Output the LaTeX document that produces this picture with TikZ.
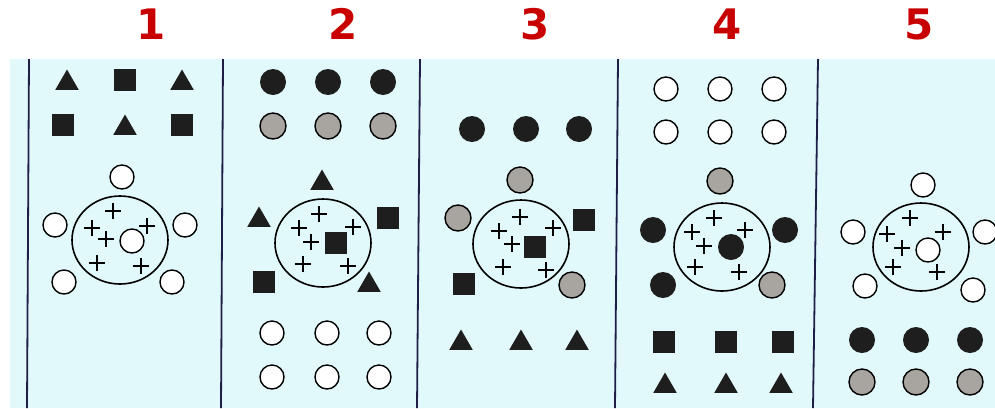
\documentclass[tikz,border=0pt]{standalone}
\usepackage{fontspec}
\setmainfont{Liberation Sans}
\newfontfamily\numfont{DejaVu Sans}
\usetikzlibrary{shapes.geometric}
\definecolor{bgcyan}{RGB}{226,249,251}
\definecolor{panelline}{RGB}{30,30,70}
\definecolor{labelred}{RGB}{200,0,0}
\definecolor{ink}{RGB}{30,30,30}
\definecolor{greyfill}{RGB}{168,164,160}
\tikzset{
  sq/.style={rectangle, fill=ink, inner sep=0pt, minimum size=22pt},
  tri/.style={regular polygon, regular polygon sides=3, fill=ink, inner sep=0pt, minimum size=27pt},
  wcirc/.style={circle, draw=black, line width=1.4pt, fill=white, inner sep=0pt, minimum size=24pt},
  bcirc/.style={circle, fill=ink, inner sep=0pt, minimum size=26pt},
  gcirc/.style={circle, draw=black, line width=1.4pt, fill=greyfill, inner sep=0pt, minimum size=26pt},
  ring/.style={ellipse, draw=black, line width=1.6pt, inner sep=0pt, minimum width=96pt, minimum height=88pt},
  plus/.style={rectangle, inner sep=0pt, minimum size=16pt,
    path picture={\draw[line width=1.6pt]
      (path picture bounding box.north) -- (path picture bounding box.south)
      (path picture bounding box.west) -- (path picture bounding box.east);}},
  num/.style={font=\numfont\bfseries\fontsize{42}{42}\selectfont, text=labelred, inner sep=0pt},
}
\begin{document}
\begin{tikzpicture}[x=1pt, y=-1pt]
   \useasboundingbox (0,0) rectangle (995,408);
   \fill[bgcyan] (10,59) rectangle (995,408);
   % panel borders
   \draw[panelline, line width=1.8pt] (29,59) -- (27,408);
   \draw[panelline, line width=1.8pt] (223,59) -- (221,408);
   \draw[panelline, line width=1.8pt] (420,59) -- (417,408);
   \draw[panelline, line width=1.8pt] (618,59) -- (615,408);
   \draw[panelline, line width=1.8pt] (818,59) -- (813,408);
   % numbers
   \node[num] (n1) at (151,24) {1};
   \node[num] (n2) at (343,24) {2};
   \node[num] (n3) at (535,24) {3};
   \node[num] (n4) at (727,24) {4};
   \node[num] (n5) at (919,24) {5};
   % panel 1
   \node[tri] (A1) at (67,83) {};
   \node[sq] (A2) at (125,80) {};
   \node[tri] (A3) at (182,83) {};
   \node[sq] (A4) at (63,125) {};
   \node[tri] (A5) at (125,128) {};
   \node[sq] (A6) at (182,125) {};
   \node[ring] (R1) at (120,240) {};
   \node[wcirc] (C1) at (132,241) {};
   \node[wcirc] (O11) at (122,177) {};
   \node[wcirc] (O12) at (55,225) {};
   \node[wcirc] (O13) at (185,225) {};
   \node[wcirc] (O14) at (64,282) {};
   \node[wcirc] (O15) at (172,282) {};
   \node[plus] (P11) at (113,211) {};
   \node[plus] (P12) at (92,228) {};
   \node[plus] (P13) at (147,226) {};
   \node[plus] (P14) at (106,239) {};
   \node[plus] (P15) at (97,263) {};
   \node[plus] (P16) at (141,266) {};
   % panel 2
   \node[bcirc] (B1) at (273,82) {};
   \node[bcirc] (B2) at (328,82) {};
   \node[bcirc] (B3) at (383,82) {};
   \node[gcirc] (B4) at (273,126) {};
   \node[gcirc] (B5) at (328,126) {};
   \node[gcirc] (B6) at (383,126) {};
   \node[ring] (R2) at (323,243) {};
   \node[sq] (C2) at (336,243) {};
   \node[tri] (O21) at (322,183) {};
   \node[tri] (O22) at (259,220) {};
   \node[sq] (O23) at (388,218) {};
   \node[sq] (O24) at (264,282) {};
   \node[tri] (O25) at (369,285) {};
   \node[plus] (P21) at (319,214) {};
   \node[plus] (P22) at (299,228) {};
   \node[plus] (P23) at (353,227) {};
   \node[plus] (P24) at (311,242) {};
   \node[plus] (P25) at (303,264) {};
   \node[plus] (P26) at (348,266) {};
   \node[wcirc] (E21) at (272,333) {};
   \node[wcirc] (E22) at (327,333) {};
   \node[wcirc] (E23) at (379,333) {};
   \node[wcirc] (E24) at (272,377) {};
   \node[wcirc] (E25) at (327,377) {};
   \node[wcirc] (E26) at (379,377) {};
   % panel 3
   \node[bcirc] (D1) at (472,129) {};
   \node[bcirc] (D2) at (526,129) {};
   \node[bcirc] (D3) at (579,129) {};
   \node[ring] (R3) at (521,244) {};
   \node[sq] (C3) at (535,247) {};
   \node[gcirc] (O31) at (520,180) {};
   \node[gcirc] (O32) at (458,218) {};
   \node[sq] (O33) at (584,220) {};
   \node[sq] (O34) at (464,284) {};
   \node[gcirc] (O35) at (572,285) {};
   \node[plus] (P31) at (520,217) {};
   \node[plus] (P32) at (499,231) {};
   \node[plus] (P33) at (553,228) {};
   \node[plus] (P34) at (512,244) {};
   \node[plus] (P35) at (503,267) {};
   \node[plus] (P36) at (546,270) {};
   \node[tri] (E31) at (461,343) {};
   \node[tri] (E32) at (521,343) {};
   \node[tri] (E33) at (577,343) {};
   % panel 4
   \node[wcirc] (F1) at (666,89) {};
   \node[wcirc] (F2) at (720,89) {};
   \node[wcirc] (F3) at (774,89) {};
   \node[wcirc] (F4) at (666,132) {};
   \node[wcirc] (F5) at (720,132) {};
   \node[wcirc] (F6) at (774,132) {};
   \node[ring] (R4) at (722,247) {};
   \node[bcirc] (C4) at (731,247) {};
   \node[gcirc] (O41) at (720,181) {};
   \node[bcirc] (O42) at (653,230) {};
   \node[bcirc] (O43) at (785,230) {};
   \node[bcirc] (O44) at (663,285) {};
   \node[gcirc] (O45) at (772,285) {};
   \node[plus] (P41) at (714,218) {};
   \node[plus] (P42) at (692,232) {};
   \node[plus] (P43) at (745,230) {};
   \node[plus] (P44) at (704,246) {};
   \node[plus] (P45) at (695,267) {};
   \node[plus] (P46) at (739,272) {};
   \node[sq] (E41) at (664,342) {};
   \node[sq] (E42) at (726,342) {};
   \node[sq] (E43) at (783,342) {};
   \node[tri] (E44) at (665,386) {};
   \node[tri] (E45) at (726,386) {};
   \node[tri] (E46) at (781,386) {};
   % panel 5
   \node[ring] (R5) at (921,247) {};
   \node[wcirc] (C5) at (928,250) {};
   \node[wcirc] (O51) at (923,185) {};
   \node[wcirc] (O52) at (853,232) {};
   \node[wcirc] (O53) at (985,232) {};
   \node[wcirc] (O54) at (865,286) {};
   \node[wcirc] (O55) at (973,290) {};
   \node[plus] (P51) at (910,218) {};
   \node[plus] (P52) at (887,234) {};
   \node[plus] (P53) at (943,232) {};
   \node[plus] (P54) at (902,248) {};
   \node[plus] (P55) at (893,267) {};
   \node[plus] (P56) at (937,272) {};
   \node[bcirc] (E51) at (862,340) {};
   \node[bcirc] (E52) at (916,340) {};
   \node[bcirc] (E53) at (970,340) {};
   \node[gcirc] (E54) at (862,382) {};
   \node[gcirc] (E55) at (916,382) {};
   \node[gcirc] (E56) at (970,382) {};
\end{tikzpicture}
\end{document}
